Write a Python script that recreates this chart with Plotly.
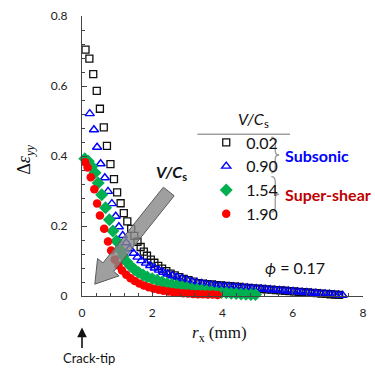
import plotly.graph_objects as go

# ---------------- data ----------------
speeds = ["0.02", "0.90", "1.54", "1.90"]

x_002 = [0.10,0.21,0.32,0.42,0.51,0.62,0.71,0.81,0.91,1.00,1.10,1.19,1.29,1.40,1.49,1.58,1.67,1.76,1.85,1.96,
         2.06,2.17,2.28,2.40,2.52,2.64,2.77,2.89,3.03,3.17,3.31,3.44,3.57,3.70,3.83,3.96,4.09,4.22,4.35,4.48,
         4.61,4.74,4.87,5.00,5.13,5.26,5.39,5.52,5.65,5.78,5.91,6.04,6.17,6.30,6.43,6.56,6.69,6.82,6.95,7.08,
         7.21,7.32]
y_002 = [0.704,0.678,0.634,0.586,0.535,0.482,0.429,0.377,0.334,0.296,0.265,0.237,0.213,0.192,0.172,0.155,0.140,0.127,0.115,0.104,
         0.095,0.086,0.078,0.071,0.064,0.059,0.054,0.049,0.045,0.041,0.037,0.035,0.034,0.033,0.031,0.030,0.029,0.028,0.027,0.026,
         0.024,0.023,0.022,0.021,0.020,0.019,0.018,0.017,0.016,0.015,0.014,0.013,0.012,0.011,0.010,0.009,0.008,0.007,0.006,0.005,
         0.004,0.003]

x_090 = [0.22,0.34,0.43,0.53,0.65,0.74,0.85,0.96,1.05,1.16,1.26,1.36,1.47,1.58,1.69,1.82,1.94,2.07,2.19,2.31,
         2.44,2.58,2.71,2.85,2.99,3.13,3.27,3.41,3.54,3.67,3.80,3.93,4.06,4.19,4.32,4.45,4.58,4.71,4.84,4.97,
         5.10,5.23,5.36,5.49,5.62,5.75,5.88,6.01,6.14,6.27,6.40,6.53,6.66,6.79,6.92,7.05,7.18,7.31,7.42]
y_090 = [0.521,0.475,0.425,0.378,0.338,0.299,0.264,0.228,0.198,0.173,0.152,0.135,0.122,0.111,0.101,0.094,0.087,0.080,0.074,0.068,
         0.063,0.058,0.054,0.050,0.046,0.042,0.039,0.036,0.034,0.032,0.030,0.029,0.028,0.027,0.026,0.025,0.024,0.023,0.022,0.021,
         0.020,0.019,0.018,0.017,0.016,0.015,0.014,0.013,0.012,0.011,0.010,0.009,0.008,0.007,0.006,0.005,0.004,0.003,0.002]

x_154 = [0.08,0.18,0.28,0.37,0.46,0.56,0.67,0.78,0.88,0.98,1.08,1.17,1.27,1.38,1.49,1.61,1.74,1.86,2.00,2.14,
         2.28,2.42,2.56,2.70,2.85,2.99,3.13,3.27,3.41,3.55,3.69,3.83,3.97,4.11,4.25,4.39,4.53,4.67,4.81,4.94]
y_154 = [0.392,0.385,0.370,0.352,0.323,0.289,0.252,0.218,0.186,0.157,0.133,0.114,0.098,0.086,0.076,0.067,0.060,0.054,0.049,0.045,
         0.040,0.036,0.033,0.030,0.027,0.024,0.021,0.019,0.017,0.015,0.013,0.011,0.010,0.009,0.008,0.007,0.006,0.005,0.004,0.004]

x_190 = [0.09,0.16,0.25,0.35,0.43,0.51,0.63,0.74,0.83,0.93,1.04,1.14,1.26,1.38,1.50,1.63,1.76,1.90,2.04,2.18,
         2.32,2.46,2.60,2.74,2.88,3.02,3.16,3.30,3.44,3.58,3.72,3.86]
y_190 = [0.382,0.367,0.339,0.305,0.264,0.230,0.192,0.156,0.130,0.104,0.087,0.073,0.061,0.051,0.043,0.036,0.030,0.025,0.021,0.018,
         0.015,0.013,0.011,0.009,0.008,0.007,0.006,0.005,0.005,0.004,0.004,0.003]

x_ticks = [0, 2, 4, 6, 8]
y_ticks = [0, 0.2, 0.4, 0.6, 0.8]
y_tick_text = ["0", "0.2", "0.4", "0.6", "0.8"]

# ---------------- layout helpers (pixel -> paper) ----------------
W, H = 375, 369
ML, MR, MT, MB = 82, 8, 12, 73
PW, PH = W - ML - MR, H - MT - MB


def px(x):
    return (x - ML) / PW


def py(y):
    return (H - MB - y) / PH


SANS = "Lato, 'Open Sans', sans-serif"
SERIF = "'Liberation Serif', 'DejaVu Serif', serif"

fig = go.Figure()

series = [
    (x_002, y_002, speeds[0], dict(symbol="square-open", size=7, color="#111111", line=dict(width=1.3, color="#111111"))),
    (x_090, y_090, speeds[1], dict(symbol="triangle-up-open", size=8, color="#0000ff", line=dict(width=1.4, color="#0000ff"))),
    (x_154, y_154, speeds[2], dict(symbol="diamond", size=10, color="#00b050", line=dict(width=0))),
    (x_190, y_190, speeds[3], dict(symbol="circle", size=8.5, color="#ff0000", line=dict(width=0))),
]
for xs, ys, name, mk in series:
    fig.add_trace(go.Scatter(x=xs, y=ys, mode="markers", name=name, marker=mk, cliponaxis=False))

# ---------------- big grey arrow ----------------
T = (170.0, 190.0)
P = (95.0, 284.0)
dx, dy = P[0] - T[0], P[1] - T[1]
L = (dx * dx + dy * dy) ** 0.5
ux, uy = dx / L, dy / L
nx, ny = -uy, ux
hw, hh, hl = 7.0, 14.0, 22.0
Nk = (P[0] - ux * hl, P[1] - uy * hl)
pts = [
    (T[0] + nx * hw, T[1] + ny * hw),
    (Nk[0] + nx * hw, Nk[1] + ny * hw),
    (Nk[0] + nx * hh, Nk[1] + ny * hh),
    P,
    (Nk[0] - nx * hh, Nk[1] - ny * hh),
    (Nk[0] - nx * hw, Nk[1] - ny * hw),
    (T[0] - nx * hw, T[1] - ny * hw),
]
path = "M " + " L ".join(f"{px(a):.5f},{py(b):.5f}" for a, b in pts) + " Z"
fig.add_shape(type="path", path=path, xref="paper", yref="paper",
              fillcolor="rgba(135,135,135,0.8)", line=dict(color="#5a5a5a", width=1), layer="above")


# ---------------- braces & legend rule ----------------
def brace(x0, yt, yb):
    ym = (yt + yb) / 2
    s = f"M {px(x0):.5f},{py(yt):.5f} "
    s += f"Q {px(x0+4):.5f},{py(yt):.5f} {px(x0+4):.5f},{py(yt+5):.5f} "
    s += f"L {px(x0+4):.5f},{py(ym-4):.5f} "
    s += f"Q {px(x0+4):.5f},{py(ym):.5f} {px(x0+8):.5f},{py(ym):.5f} "
    s += f"Q {px(x0+4):.5f},{py(ym):.5f} {px(x0+4):.5f},{py(ym+4):.5f} "
    s += f"L {px(x0+4):.5f},{py(yb-5):.5f} "
    s += f"Q {px(x0+4):.5f},{py(yb):.5f} {px(x0):.5f},{py(yb):.5f}"
    return s


fig.add_shape(type="path", path=brace(274, 135, 171), xref="paper", yref="paper",
              line=dict(color="#9a9a9a", width=1.3))
fig.add_shape(type="path", path=brace(274, 175, 211), xref="paper", yref="paper",
              line=dict(color="#9a9a9a", width=1.3))
fig.add_shape(type="line", x0=px(199), x1=px(293), y0=py(132), y1=py(132), xref="paper", yref="paper",
              line=dict(color="#a0a0a0", width=1.5))

# ---------------- annotations ----------------
ann = [
    dict(x=px(25), y=py(158), text="Δ<i>ε</i><sub><i>yy</i></sub>", textangle=-90,
         font=dict(family=SERIF, size=18, color="#111")),
    dict(x=px(221), y=py(335), text="<i>r</i><sub>x</sub> (mm)", font=dict(family=SERIF, size=17, color="#111")),
    dict(x=px(89), y=py(359), text="Crack-tip", font=dict(family=SANS, size=13, color="#111")),
    dict(x=px(298), y=py(267), text="<i>ϕ</i> = 0.17", font=dict(family=SANS, size=16, color="#111")),
    dict(x=px(173), y=py(171), text="<b><i>V/C</i></b><sub><b>s</b></sub>", font=dict(family=SANS, size=16, color="#111")),
    dict(x=px(256), y=py(117), text="<i>V/C</i><sub>s</sub>", font=dict(family=SANS, size=16, color="#111")),
    dict(x=px(286), y=py(153), text="<b>Subsonic</b>", xanchor="left", font=dict(family=SANS, size=16, color="#0000ff")),
    dict(x=px(286), y=py(193), text="<b>Super-shear</b>", xanchor="left", font=dict(family=SANS, size=16, color="#c00000")),
    dict(x=px(82), y=py(328), ax=0, ay=22, text="",
         showarrow=True, arrowhead=2, arrowsize=1.2, arrowwidth=1.6, arrowcolor="#111"),
]
for a in ann:
    a.setdefault("xref", "paper")
    a.setdefault("yref", "paper")
    a.setdefault("showarrow", False)
    a.setdefault("xanchor", "center")
    a.setdefault("yanchor", "middle")
    fig.add_annotation(**a)

axis_common = dict(showline=True, linecolor="#444", linewidth=1.3, ticks="inside", tickcolor="#444",
                   showgrid=False, zeroline=False, mirror=False,
                   tickfont=dict(family=SANS, size=12, color="#222"))

fig.update_xaxes(range=[0, 8], tickvals=x_ticks, ticklen=5, ticklabelstandoff=5,
                 minor=dict(dtick=0.4, ticks="inside", ticklen=3, tickcolor="#444"), **axis_common)
fig.update_yaxes(range=[0, 0.8], tickvals=y_ticks, ticktext=y_tick_text, ticklen=5, ticklabelstandoff=11,
                 minor=dict(dtick=0.04, ticks="inside", ticklen=3, tickcolor="#444"), **axis_common)

fig.update_layout(
    width=W, height=H, margin=dict(l=ML, r=MR, t=MT, b=MB),
    paper_bgcolor="white", plot_bgcolor="white",
    showlegend=True,
    legend=dict(x=px(208), y=py(123), xanchor="left", yanchor="top",
                bgcolor="rgba(0,0,0,0)", borderwidth=0, tracegroupgap=0,
                font=dict(family=SANS, size=16, color="#111"), itemsizing="trace"),
)

fig.write_html("out.html")
